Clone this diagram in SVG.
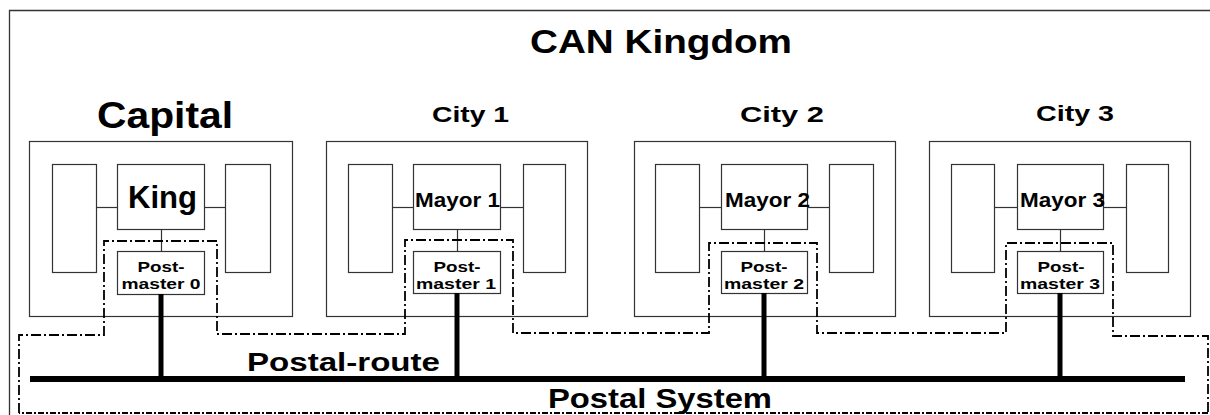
<svg xmlns="http://www.w3.org/2000/svg" width="1210" height="415" viewBox="0 0 1210 415">
<style>
  .box{fill:#fff;stroke:#333;stroke-width:1.2}
  .thin{stroke:#333;stroke-width:1.2;fill:none}
  .drop{stroke:#000;stroke-width:5;fill:none}
  .dd{stroke:#000;stroke-width:1.8;fill:none;stroke-dasharray:10 3 2 3}
  .dd2{stroke:#000;stroke-width:1.8;fill:none;stroke-dasharray:6 2 2 2}
  text{font-family:"Liberation Sans",Arial,sans-serif;font-weight:bold;fill:#000}
  .pm{font-size:15px;text-anchor:middle}
</style>
<rect width="1210" height="415" fill="#fff"/>
<path d="M9.5,415 V10.5 H1212" fill="none" stroke="#333" stroke-width="1.3"/>
<text x="530" y="53" font-size="33" textLength="262" lengthAdjust="spacingAndGlyphs">CAN Kingdom</text>

<g id="capital">
  <text x="97" y="128" font-size="36" textLength="136" lengthAdjust="spacingAndGlyphs">Capital</text>
  <rect class="box" x="29.5" y="141.5" width="263" height="175"/>
  <rect class="box" x="52.5" y="164.5" width="44" height="108"/>
  <rect class="box" x="225.5" y="164.5" width="45" height="108"/>
  <line class="thin" x1="96.5" y1="207.5" x2="117.5" y2="207.5"/>
  <line class="thin" x1="204.5" y1="207.5" x2="225.5" y2="207.5"/>
  <line class="thin" x1="161.5" y1="229.5" x2="161.5" y2="251.5"/>
  <g id="king">
    <rect class="box" x="117.5" y="164.5" width="87" height="65"/>
    <text x="128" y="208" font-size="32" textLength="69" lengthAdjust="spacingAndGlyphs">King</text>
  </g>
  <g id="postmaster0">
    <rect class="box" x="117.5" y="251.5" width="87" height="43"/>
    <text class="pm" x="161" y="272" textLength="47" lengthAdjust="spacingAndGlyphs">Post-</text>
    <text class="pm" x="161" y="289" textLength="79" lengthAdjust="spacingAndGlyphs">master 0</text>
  </g>
</g>

<g id="city1">
  <text x="432" y="122" font-size="22" textLength="77" lengthAdjust="spacingAndGlyphs">City 1</text>
  <rect class="box" x="326.5" y="141.5" width="261" height="175"/>
  <rect class="box" x="348.5" y="164.5" width="44" height="108"/>
  <rect class="box" x="523.5" y="164.5" width="42" height="108"/>
  <line class="thin" x1="392.5" y1="207.5" x2="413.5" y2="207.5"/>
  <line class="thin" x1="500.5" y1="207.5" x2="523.5" y2="207.5"/>
  <line class="thin" x1="457.5" y1="229.5" x2="457.5" y2="251.5"/>
  <g id="mayor1">
    <rect class="box" x="413.5" y="164.5" width="87" height="65"/>
    <text x="415" y="207" font-size="20" textLength="85" lengthAdjust="spacingAndGlyphs">Mayor 1</text>
  </g>
  <g id="postmaster1">
    <rect class="box" x="413.5" y="251.5" width="87" height="42"/>
    <text class="pm" x="457" y="272" textLength="47" lengthAdjust="spacingAndGlyphs">Post-</text>
    <text class="pm" x="456" y="289" textLength="80" lengthAdjust="spacingAndGlyphs">master 1</text>
  </g>
</g>

<g id="city2">
  <text x="740" y="122" font-size="22" textLength="84" lengthAdjust="spacingAndGlyphs">City 2</text>
  <rect class="box" x="634.5" y="141.5" width="261" height="175"/>
  <rect class="box" x="655.5" y="164.5" width="44" height="108"/>
  <rect class="box" x="829.5" y="164.5" width="44" height="108"/>
  <line class="thin" x1="699.5" y1="207.5" x2="721.5" y2="207.5"/>
  <line class="thin" x1="807.5" y1="207.5" x2="829.5" y2="207.5"/>
  <line class="thin" x1="764.5" y1="229.5" x2="764.5" y2="251.5"/>
  <g id="mayor2">
    <rect class="box" x="721.5" y="164.5" width="86" height="65"/>
    <text x="725" y="207" font-size="20" textLength="85" lengthAdjust="spacingAndGlyphs">Mayor 2</text>
  </g>
  <g id="postmaster2">
    <rect class="box" x="721.5" y="251.5" width="86" height="42"/>
    <text class="pm" x="764" y="272" textLength="47" lengthAdjust="spacingAndGlyphs">Post-</text>
    <text class="pm" x="764" y="289" textLength="80" lengthAdjust="spacingAndGlyphs">master 2</text>
  </g>
</g>

<g id="city3">
  <text x="1036" y="121" font-size="22" textLength="78" lengthAdjust="spacingAndGlyphs">City 3</text>
  <rect class="box" x="929.5" y="141.5" width="261" height="175"/>
  <rect class="box" x="951.5" y="164.5" width="43" height="108"/>
  <rect class="box" x="1126.5" y="164.5" width="42" height="108"/>
  <line class="thin" x1="994.5" y1="207.5" x2="1017.5" y2="207.5"/>
  <line class="thin" x1="1103.5" y1="207.5" x2="1126.5" y2="207.5"/>
  <line class="thin" x1="1060.5" y1="229.5" x2="1060.5" y2="251.5"/>
  <g id="mayor3">
    <rect class="box" x="1017.5" y="164.5" width="86" height="65"/>
    <text x="1020" y="207" font-size="20" textLength="85" lengthAdjust="spacingAndGlyphs">Mayor 3</text>
  </g>
  <g id="postmaster3">
    <rect class="box" x="1017.5" y="251.5" width="86" height="42"/>
    <text class="pm" x="1061" y="272" textLength="47" lengthAdjust="spacingAndGlyphs">Post-</text>
    <text class="pm" x="1060" y="289" textLength="80" lengthAdjust="spacingAndGlyphs">master 3</text>
  </g>
</g>

<g id="connectors">
  <path class="dd" d="M19,413 V335 H104 V241 H217 V334 H405 V240 H513 V333 H709 V243 H817 V333 H1006 V243 H1113 V336 H1208 V413"/>
  <path class="dd2" d="M1208,413 H19"/>
  <line x1="30" y1="379" x2="1185" y2="379" stroke="#000" stroke-width="6"/>
  <line class="drop" x1="161" y1="294" x2="161" y2="379"/>
  <line class="drop" x1="457" y1="293" x2="457" y2="379"/>
  <line class="drop" x1="764" y1="293" x2="764" y2="379"/>
  <line class="drop" x1="1060" y1="293" x2="1060" y2="379"/>
</g>

<g id="labels">
  <text x="247" y="371" font-size="26" textLength="193" lengthAdjust="spacingAndGlyphs">Postal-route</text>
  <text x="548" y="408" font-size="28" textLength="224" lengthAdjust="spacingAndGlyphs">Postal System</text>
</g>
</svg>
